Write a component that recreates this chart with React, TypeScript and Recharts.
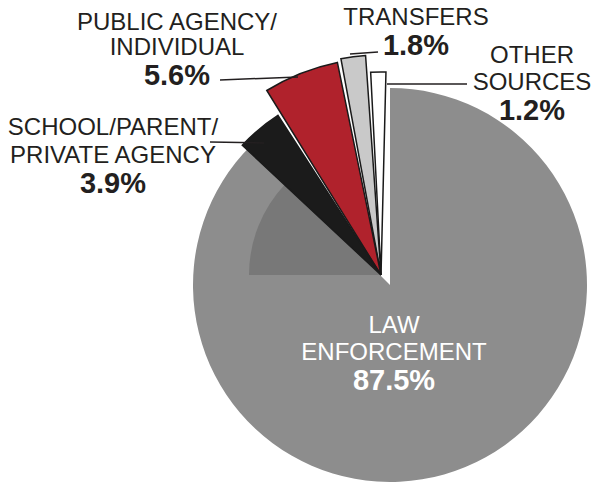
import { PieChart, Pie, Cell } from 'recharts'

// referral sources, share of cases (%)
const SOURCES = ['LAW ENFORCEMENT', 'OTHER SOURCES', 'TRANSFERS', 'PUBLIC AGENCY/INDIVIDUAL', 'SCHOOL/PARENT/PRIVATE AGENCY']
const SHARES = [87.5, 1.2, 1.8, 5.6, 3.9]
const PCT_LABELS = ['87.5%', '1.2%', '1.8%', '5.6%', '3.9%']
const NAME_LINES = [
  ['LAW', 'ENFORCEMENT'],
  ['OTHER', 'SOURCES'],
  ['TRANSFERS'],
  ['PUBLIC AGENCY/', 'INDIVIDUAL'],
  ['SCHOOL/PARENT/', 'PRIVATE AGENCY'],
]

const COLORS = ['#8d8d8d', '#ffffff', '#c9c9c9', '#b0222c', '#1b1b1b']
// exploded slices are drawn at slightly different lengths, like the scan
const SLICE_RADIUS = [197, 203, 220, 217, 190]

const W = 593
const H = 489
const FONT = '"Liberation Sans", Arial, Helvetica, sans-serif'
const INK = '#231f20'

// label placement: centre x, baselines, leader line
const LABEL_POS: Record<string, { x: number; y: number[]; leader?: number[]; color?: string }> = {
  'LAW ENFORCEMENT': { x: 394, y: [333, 360, 390], color: '#ffffff' },
  'OTHER SOURCES': { x: 532, y: [63, 90, 120], leader: [467, 84, 387, 84] },
  TRANSFERS: { x: 416, y: [25, 55], leader: [378, 52, 350, 54] },
  'PUBLIC AGENCY/INDIVIDUAL': { x: 177, y: [30, 55, 85], leader: [220, 80, 298, 77] },
  'SCHOOL/PARENT/PRIVATE AGENCY': { x: 113, y: [135, 163, 193], leader: [210, 142, 264, 143] },
}

const data = SOURCES.map((name, i) => ({ name, value: SHARES[i] }))

const GAP = 1.1
const START = 88.6

function sliceAngles() {
  // big slice runs clockwise from 12 o'clock, the rest fan out to the left of it
  const out: { start: number; end: number }[] = []
  const total = SHARES.reduce((s, v) => s + v, 0)
  out.push({ start: 90, end: 90 - (SHARES[0] / total) * 360 })
  let a = START
  for (let i = 1; i < SHARES.length; i++) {
    const deg = (SHARES[i] / total) * 360
    out.push({ start: a, end: a + deg })
    a += deg + GAP
  }
  return out
}

function Label({ name }: { name: string }) {
  const idx = SOURCES.indexOf(name)
  const pos = LABEL_POS[name]
  const lines = NAME_LINES[idx]
  const fill = pos.color ?? INK
  return (
    <g>
      {pos.leader && (
        <line
          x1={pos.leader[0]}
          y1={pos.leader[1]}
          x2={pos.leader[2]}
          y2={pos.leader[3]}
          stroke={INK}
          strokeWidth={1.5}
        />
      )}
      {lines.map((t, k) => (
        <text key={t} x={pos.x} y={pos.y[k]} textAnchor="middle" fill={fill} style={{ fontFamily: FONT, fontSize: 24 }}>
          {t}
        </text>
      ))}
      <text
        x={pos.x}
        y={pos.y[lines.length]}
        textAnchor="middle"
        fill={fill}
        style={{ fontFamily: FONT, fontSize: 29, fontWeight: 700 }}
      >
        {PCT_LABELS[idx]}
      </text>
    </g>
  )
}

export default function App() {
  const angles = sliceAngles()
  const last = angles[angles.length - 1]
  const pies = data.map((d, i) => (
    <Pie
      key={d.name}
      data={[d]}
      dataKey="value"
      nameKey="name"
      cx={i === 0 ? 390 : 381}
      cy={i === 0 ? 285 : 275}
      innerRadius={0}
      outerRadius={SLICE_RADIUS[i]}
      startAngle={angles[i].start}
      endAngle={angles[i].end}
      isAnimationActive={false}
      labelLine={false}
      label={(p: any) => <Label name={p.name} />}
    >
      <Cell
        fill={COLORS[i]}
        stroke={i === 0 ? '#8d8d8d' : '#1a1a1a'}
        strokeWidth={i === 0 ? 0 : 1.5}
      />
    </Pie>
  ))
  return (
    <div style={{ position: 'absolute', left: 0, top: 0, width: W, height: H, background: '#fff' }}>
      <PieChart width={W} height={H} margin={{ top: 0, right: 0, bottom: 0, left: 0 }}>
        {pies[0]}
        {/* darker shading on the big slice under the exploded wedges */}
        <Pie
          key="shade"
          data={[{ name: 'shade', value: SHARES[0] }]}
          dataKey="value"
          cx={381}
          cy={275}
          outerRadius={132}
          startAngle={last.end}
          endAngle={180}
          stroke="none"
          fill="#787878"
          isAnimationActive={false}
        />
        {pies.slice(1)}
      </PieChart>
    </div>
  )
}
